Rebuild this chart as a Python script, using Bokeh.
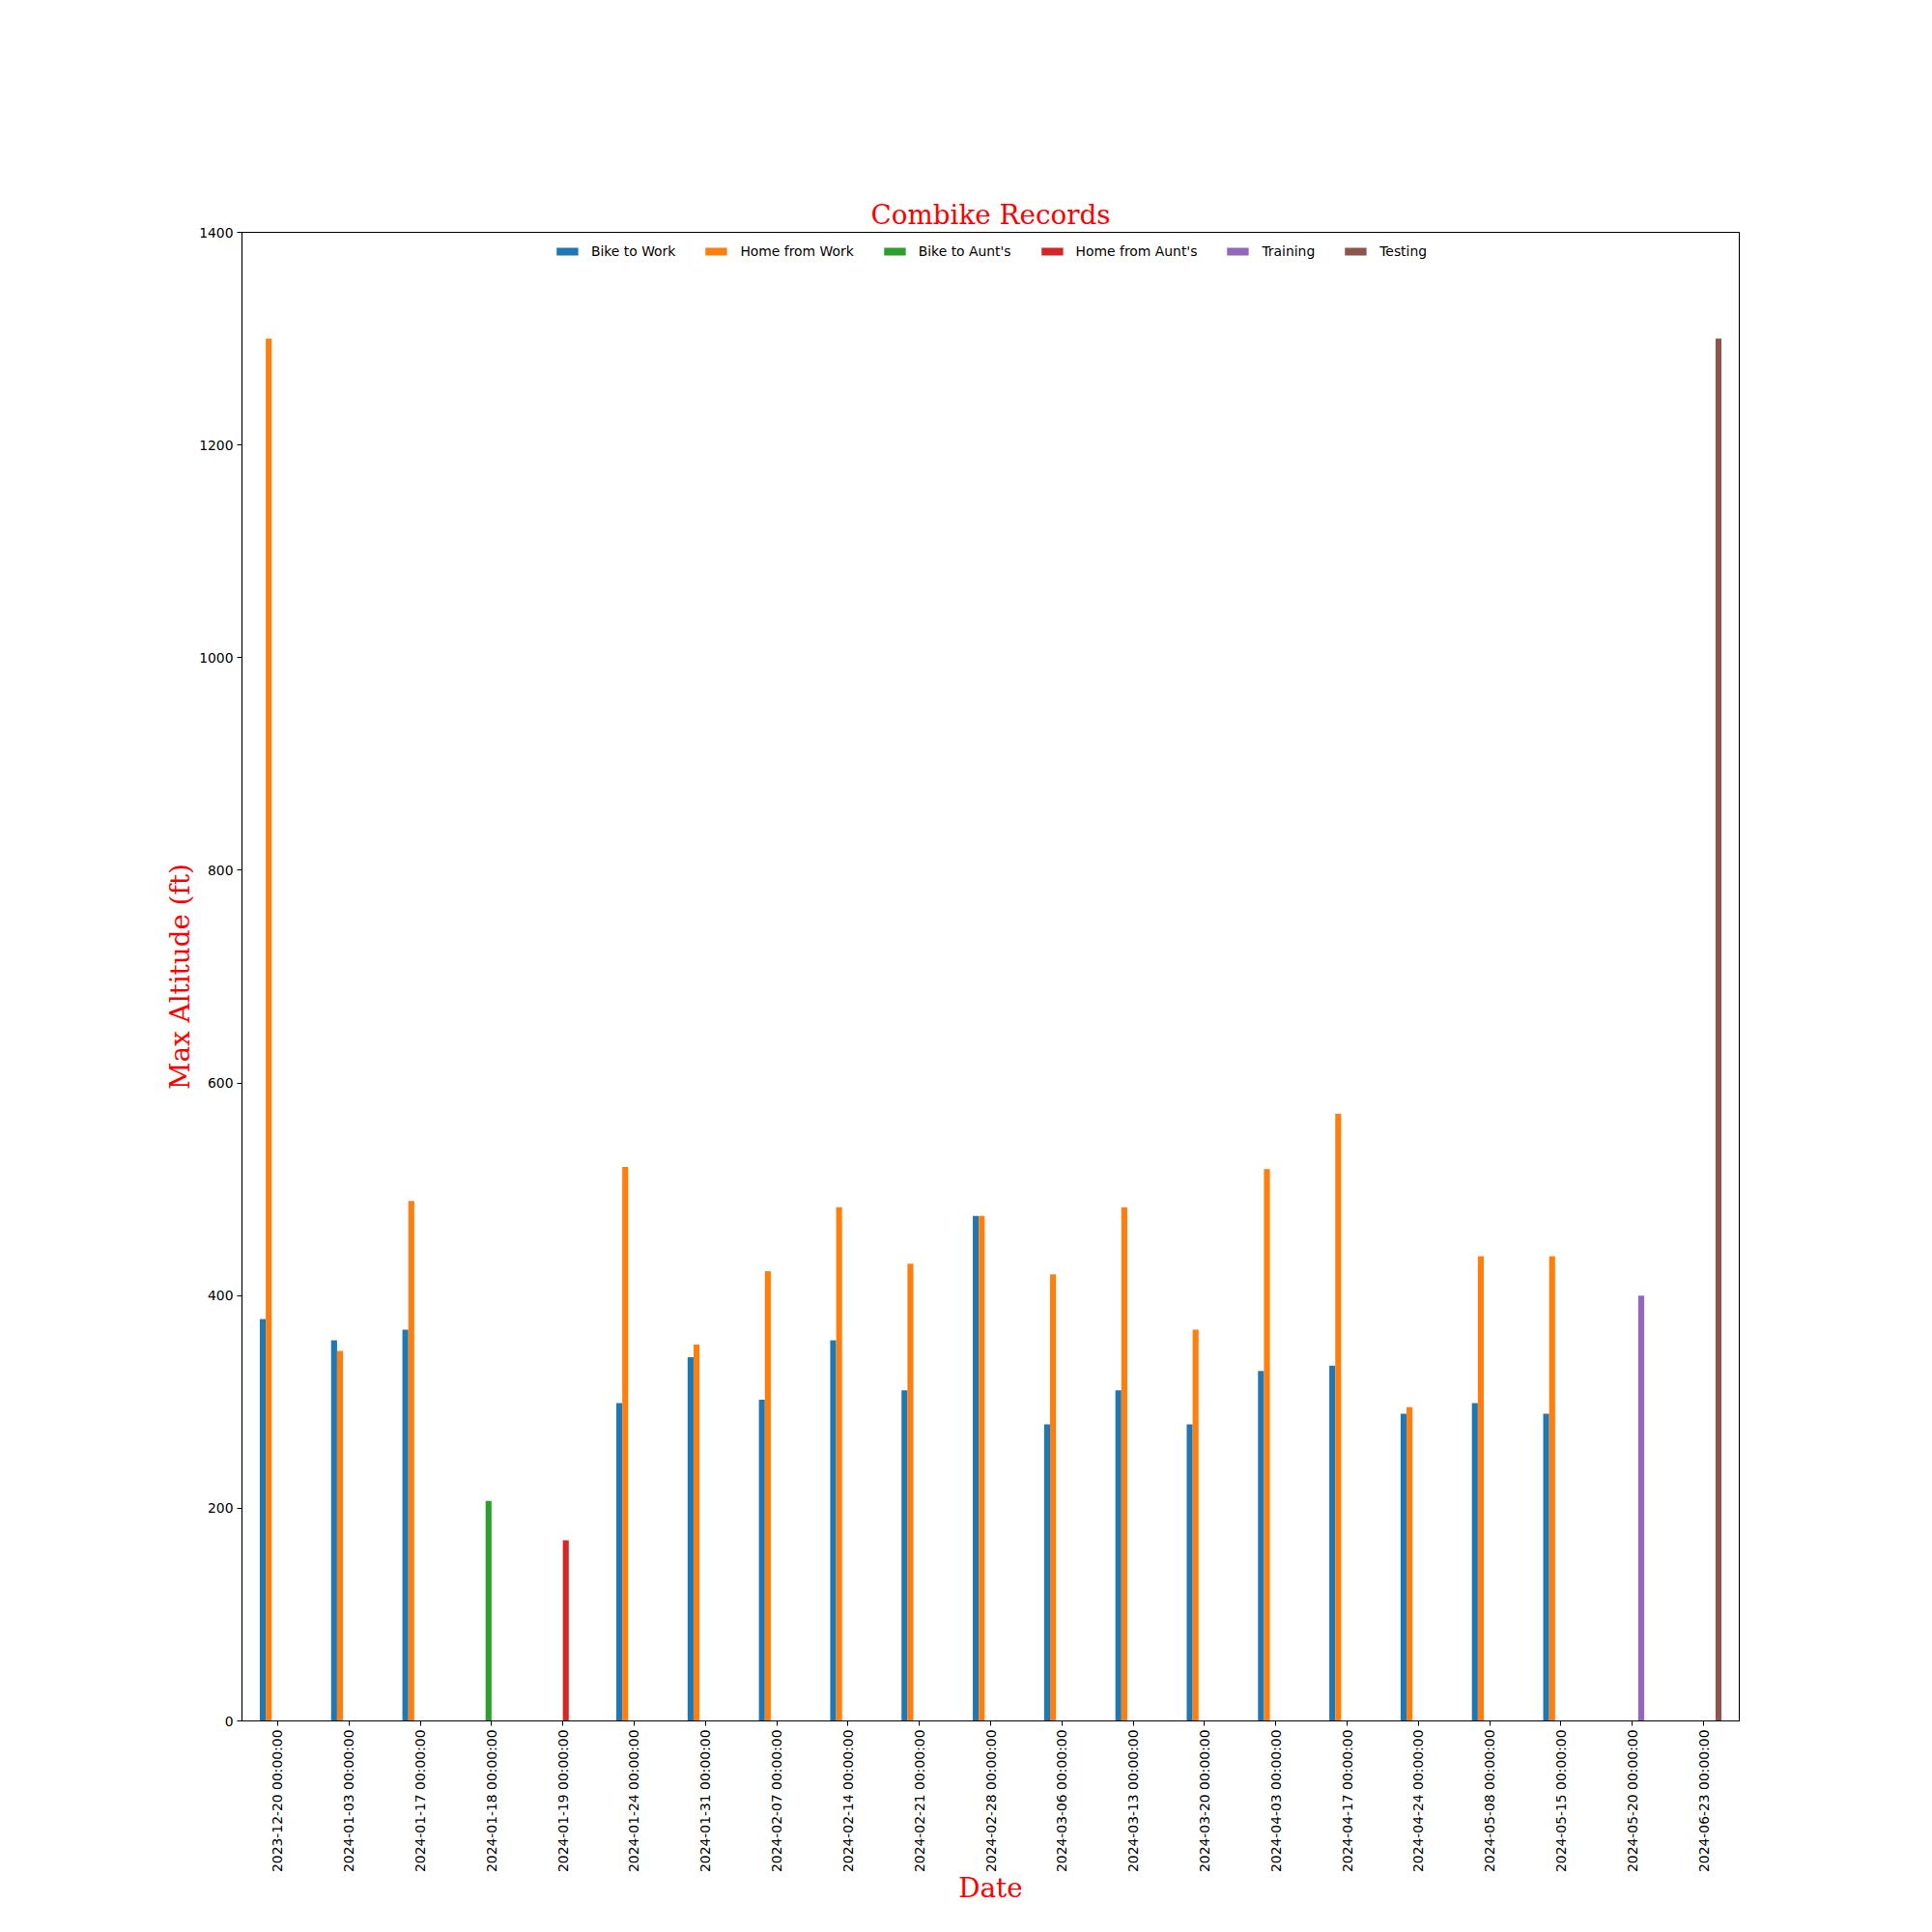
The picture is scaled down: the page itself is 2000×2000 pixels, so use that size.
import math
from bokeh.plotting import figure
from bokeh.models import FactorRange, Range1d, FixedTicker, ColumnDataSource
from bokeh.transform import dodge
from bokeh.embed import file_html
from bokeh.resources import INLINE

dates = ["2023-12-20 00:00:00", "2024-01-03 00:00:00", "2024-01-17 00:00:00",
         "2024-01-18 00:00:00", "2024-01-19 00:00:00", "2024-01-24 00:00:00",
         "2024-01-31 00:00:00", "2024-02-07 00:00:00", "2024-02-14 00:00:00",
         "2024-02-21 00:00:00", "2024-02-28 00:00:00", "2024-03-06 00:00:00",
         "2024-03-13 00:00:00", "2024-03-20 00:00:00", "2024-04-03 00:00:00",
         "2024-04-17 00:00:00", "2024-04-24 00:00:00", "2024-05-08 00:00:00",
         "2024-05-15 00:00:00", "2024-05-20 00:00:00", "2024-06-23 00:00:00"]

bike_to_work = [378, 358, 368, None, None, 299, 342, 302, 358, 311, 475, 279,
                311, 279, 329, 334, 289, 299, 289, None, None]
home_from_work = [1300, 348, 489, None, None, 521, 354, 423, 483, 430, 475, 420,
                  483, 368, 519, 571, 295, 437, 437, None, None]
bike_to_aunts = [None, None, None, 207, None, None, None, None, None, None, None,
                 None, None, None, None, None, None, None, None, None, None]
home_from_aunts = [None, None, None, None, 170, None, None, None, None, None, None,
                   None, None, None, None, None, None, None, None, None, None]
training = [None] * 19 + [400, None]
testing = [None] * 20 + [1300]

series_names = ["Bike to Work", "Home from Work", "Bike to Aunt's",
                "Home from Aunt's", "Training", "Testing"]
series_values = [bike_to_work, home_from_work, bike_to_aunts,
                 home_from_aunts, training, testing]
colors = ["#1f77b4", "#ff7f0e", "#2ca02c", "#d62728", "#9467bd", "#8c564b"]
y_ticks = [0, 200, 400, 600, 800, 1000, 1200, 1400]

p = figure(x_range=FactorRange(factors=dates, range_padding=0),
           y_range=Range1d(0, 1400),
           frame_width=1550, frame_height=1541,
           min_border_left=250, min_border_top=240,
           min_border_right=190, min_border_bottom=200,
           output_backend="svg", toolbar_location=None,
           title="Combike Records")

n = len(series_names)
bw = 0.5 / n
for i, (name, vals, col) in enumerate(zip(series_names, series_values, colors)):
    xs = [d for d, v in zip(dates, vals) if v is not None]
    ys = [v for v in vals if v is not None]
    src = ColumnDataSource(dict(x=xs, top=ys))
    off = -0.25 + (i + 0.5) * bw
    p.vbar(x=dodge("x", off, range=p.x_range), top="top", width=bw,
           source=src, fill_color=col, line_color=None, legend_label=name)

p.title.align = "center"
p.title.text_font = "DejaVu Serif"
p.title.text_font_size = "27.8px"
p.title.text_font_style = "normal"
p.title.text_color = "red"
p.title.standoff = 4

p.xgrid.grid_line_color = None
p.ygrid.grid_line_color = None
p.outline_line_color = "black"
p.outline_line_width = 1.1

for ax in (p.xaxis[0], p.yaxis[0]):
    ax.axis_line_color = "black"
    ax.axis_line_width = 1.1
    ax.major_tick_in = 0
    ax.major_tick_out = 5
    ax.major_tick_line_color = "black"
    ax.minor_tick_line_color = None
    ax.major_label_text_font = "DejaVu Sans"
    ax.major_label_text_font_size = "13.9px"
    ax.major_label_text_color = "black"
    ax.axis_label_text_font = "DejaVu Serif"
    ax.axis_label_text_font_size = "27.8px"
    ax.axis_label_text_font_style = "normal"
    ax.axis_label_text_color = "red"

p.yaxis[0].ticker = FixedTicker(ticks=y_ticks)
p.yaxis[0].axis_label = "Max Altitude (ft)"
p.yaxis[0].major_label_standoff = 4
p.yaxis[0].axis_label_standoff = 0
p.xaxis[0].axis_label = "Date"
p.xaxis[0].major_label_orientation = math.pi / 2
p.xaxis[0].major_label_standoff = 4
p.xaxis[0].axis_label_standoff = -3

lg = p.legend[0]
lg.location = "top_center"
lg.orientation = "horizontal"
lg.border_line_color = None
lg.background_fill_alpha = 0
lg.margin = 10
lg.padding = 10
lg.spacing = 28
lg.label_standoff = 11
lg.glyph_width = 28
lg.glyph_height = 10
lg.label_height = 20
lg.label_text_font = "DejaVu Sans"
lg.label_text_font_size = "13.9px"
lg.label_text_color = "black"

open("out.html", "w").write(file_html(p, INLINE))
